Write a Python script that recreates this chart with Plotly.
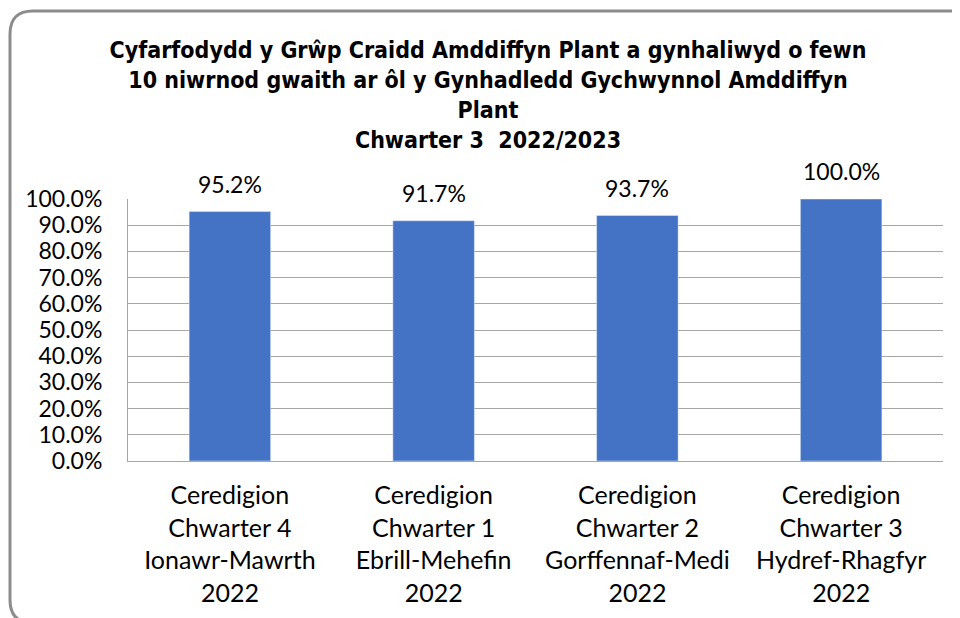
import plotly.graph_objects as go

categories = [
    "Ceredigion<br>Chwarter 4<br>Ionawr-Mawrth<br>2022",
    "Ceredigion<br>Chwarter 1<br>Ebrill-Mehefin<br>2022",
    "Ceredigion<br>Chwarter 2<br>Gorffennaf-Medi<br>2022",
    "Ceredigion<br>Chwarter 3<br>Hydref-Rhagfyr<br>2022",
]
values = [95.2, 91.7, 93.7, 100.0]
y_ticks = [0, 10, 20, 30, 40, 50, 60, 70, 80, 90, 100]
y_ticktext = [f"{v:.1f}%" for v in y_ticks]

title = ("<b>Cyfarfodydd y Grŵp Craidd Amddiffyn Plant a gynhaliwyd o fewn<br>"
         "10 niwrnod gwaith ar ôl y Gynhadledd Gychwynnol Amddiffyn<br>"
         "Plant<br>Chwarter 3\u00a0 2022/2023</b>")

# page body has an 8px margin, so work in page pixels and shift
OFF = 8
W, H = 960 - OFF, 618 - OFF
L, R, T, B = 128 - OFF, 943 - OFF, 199 - OFF, 461 - OFF


def p(x, y):
    # page pixel -> paper coords
    return f"{(x - OFF - L) / (R - L):.5f},{(B - (y - OFF)) / (B - T):.5f}"


fig = go.Figure()
fig.add_trace(go.Bar(
    x=categories, y=values, marker_color="#4472C4", width=0.4,
    showlegend=False, hoverinfo="skip",
))

for c, v in zip(categories, values):
    fig.add_annotation(x=c, y=v, text=f"{v:.1f}%", showarrow=False,
                       yanchor="bottom", yshift=12,
                       font=dict(family="Lato", size=23, color="#000"))

# rounded outer frame
x0, y0, x1, y1, r = 10, 11, 973, 623, 23
path = (f"M {p(x0 + r, y0)} L {p(x1 - r, y0)} Q {p(x1, y0)} {p(x1, y0 + r)} "
        f"L {p(x1, y1 - r)} Q {p(x1, y1)} {p(x1 - r, y1)} "
        f"L {p(x0 + r, y1)} Q {p(x0, y1)} {p(x0, y1 - r)} "
        f"L {p(x0, y0 + r)} Q {p(x0, y0)} {p(x0 + r, y0)} Z")
fig.add_shape(type="path", path=path, xref="paper", yref="paper",
              line=dict(color="#8C8C8C", width=3), layer="above")

fig.update_layout(
    width=W, height=H,
    margin=dict(l=L, r=W - R, t=T, b=H - B),
    paper_bgcolor="white", plot_bgcolor="white",
    title=dict(text=title, x=(488 - OFF) / W, xanchor="center", xref="container",
               y=1 - (58 - OFF) / H, yanchor="top", yref="container",
               font=dict(family="Liberation Sans Narrow, DejaVu Sans Condensed, Roboto Condensed, Roboto",
                         size=23, color="#000")),
    bargap=0.6,
    xaxis=dict(showline=True, linecolor="#A6A6A6", linewidth=1, ticks="",
               ticklabelstandoff=12,
               tickfont=dict(family="Lato", size=25, color="#000")),
    yaxis=dict(range=[0, 100], tickvals=y_ticks, ticktext=y_ticktext,
               showgrid=True, gridcolor="#A6A6A6", gridwidth=1,
               showline=True, linecolor="#A6A6A6", linewidth=1,
               ticklabelstandoff=20,
               tickfont=dict(family="Lato", size=23, color="#000"),
               ticks="", zeroline=False),
)

fig.write_html("out.html")
